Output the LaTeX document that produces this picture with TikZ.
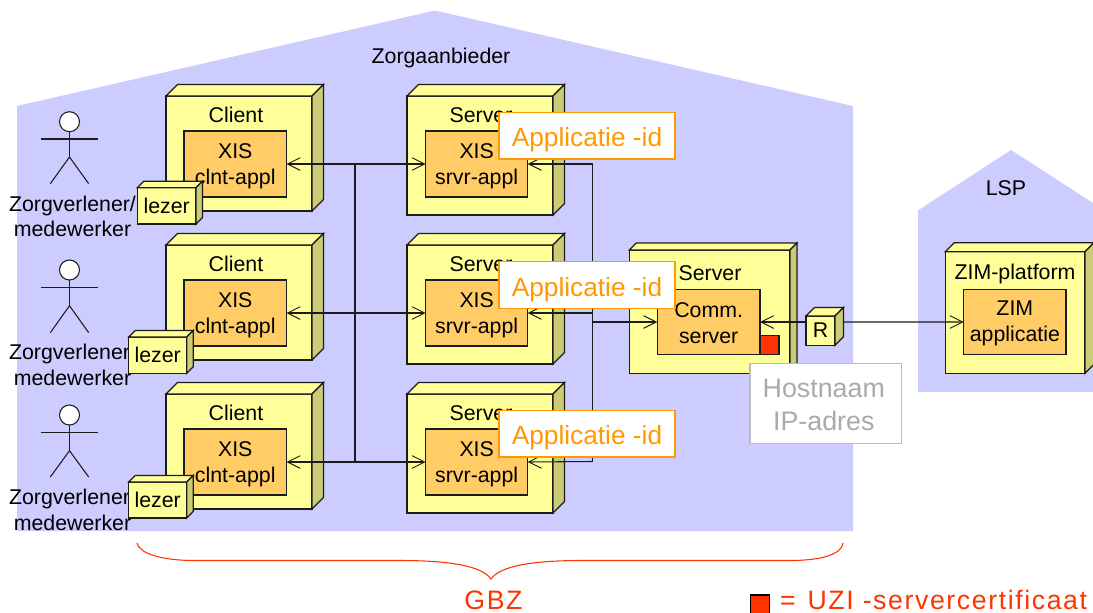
\documentclass[tikz,border=0pt]{standalone}
\usepackage{fontspec}
\setmainfont{Liberation Sans}
\newfontfamily\spacedfont[LetterSpace=6]{Liberation Sans}
\usetikzlibrary{arrows.meta}
\definecolor{housecol}{HTML}{CCCCFF}
\definecolor{frontcol}{HTML}{FFFF99}
\definecolor{sidecol}{HTML}{CCCC77}
\definecolor{innercol}{HTML}{FFCC66}
\definecolor{appcol}{HTML}{FF9900}
\definecolor{redcol}{HTML}{FF3300}
\definecolor{linecol}{HTML}{1C1C1C}
\definecolor{hostline}{HTML}{BBBBBB}
\definecolor{hosttext}{HTML}{AAAAAA}
\newcommand{\padA}{\rule{0pt}{15pt}}
\newcommand{\padB}{\rule{0pt}{13.2pt}}
\newcommand{\padH}{\rule{0pt}{16.5pt}}
\newcommand{\apptext}{\raisebox{-8.3pt}[0pt][0pt]{Applicatie -id}}
\tikzset{
  every node/.style={outer sep=0pt},
  >={Straight Barb[length=9.5pt,width=9.5pt,line width=0.7pt]},
  house/.style={fill=housecol,draw=none},
  boxline/.style={draw=linecol,line width=0.9pt,line join=miter},
  frontface/.style={boxline,fill=frontcol,inner sep=0pt,anchor=north west},
  topface/.style={boxline,fill=frontcol},
  sideface/.style={boxline,fill=sidecol},
  innerbox/.style={boxline,fill=innercol,inner sep=0pt,anchor=north west,align=center,font=\fontsize{16}{19.3}\selectfont},
  lbl/.style={inner sep=0pt,align=center,font=\fontsize{16}{19}\selectfont,text=black},
  conn/.style={draw=linecol,line width=0.8pt},
  appbox/.style={draw=appcol,fill=white,line width=0.9pt,text=appcol,inner sep=0pt,anchor=north west,font=\fontsize{19.7}{24}\selectfont},
  hostbox/.style={draw=hostline,fill=white,line width=0.9pt,text=hosttext,inner sep=0pt,anchor=north west,align=center,font=\fontsize{20.1}{24.3}\selectfont},
  stick/.style={draw=linecol,line width=0.8pt},
  headnode/.style={circle,draw=linecol,line width=0.8pt,fill=white,inner sep=0pt,minimum size=15pt},
  bracecurve/.style={draw=redcol,line width=0.8pt},
  redlbl/.style={text=redcol,inner sep=0pt,font=\spacedfont\fontsize{20}{24}\selectfont},
}
% name, x0, y0, x1, y1, depth, text
\newcommand{\tdbox}[7]{%
  \pgfmathsetmacro{\bwid}{(#4-#2)*0.75}%
  \pgfmathsetmacro{\bhei}{(#5-#3)*0.75}%
  \node[frontface,minimum width=\bwid pt,minimum height=\bhei pt,align=center,font=\fontsize{16}{19}\selectfont] (#1) at (#2,#3) {#7};
  \draw[topface] (#1.north west) -- ++(#6,-#6) -- ([shift={(#6,-#6)}]#1.north east) -- (#1.north east) -- cycle;
  \draw[sideface] (#1.north east) -- ++(#6,-#6) -- ([shift={(#6,-#6)}]#1.south east) -- (#1.south east) -- cycle;
}
% name, x0, y0, x1, y1, text
\newcommand{\inbox}[6]{%
  \pgfmathsetmacro{\bwid}{(#4-#2)*0.75}%
  \pgfmathsetmacro{\bhei}{(#5-#3)*0.75}%
  \node[innerbox,minimum width=\bwid pt,minimum height=\bhei pt] (#1) at (#2,#3) {#6};
}
% name, y of head, y of arms, y of crotch, y of feet
\newcommand{\stickman}[5]{%
  \node[headnode] (#1) at (69.5,#2) {};
  \coordinate (#1arml) at (41,#3);
  \coordinate (#1armr) at (98,#3);
  \coordinate (#1hip) at (69.5,#4);
  \coordinate (#1fl) at (50.3,#5);
  \coordinate (#1fr) at (88.7,#5);
  \draw[stick] (#1.south) -- (#1hip);
  \draw[stick] (#1arml) -- (#1armr);
  \draw[stick] (#1fl) -- (#1hip) -- (#1fr);
}
\begin{document}
\begin{tikzpicture}[x=0.75pt,y=-0.75pt]
\useasboundingbox (0,0) rectangle (1093,612);
\clip (0,0) rectangle (1093,612);
% houses
\fill[house] (17,106) -- (435,10.5) -- (853,106) -- (853,531) -- (17,531) -- cycle;
\fill[house] (918,210.5) -- (1011,150) -- (1093,203) -- (1093,392) -- (918,392) -- cycle;
\node[lbl] (zorgaanb) at (441,58) {Zorgaanbieder};
\node[lbl] (lsp) at (1006,188) {LSP};
% actors
\stickman{act1}{121.7}{139}{157}{183.7}
\stickman{act2}{270}{287.7}{305.7}{332.7}
\stickman{act3}{415}{432.7}{450.7}{477}
\node[lbl] (actl1) at (72.5,216.5) {Zorgverlener/\\medewerker};
\node[lbl] (actl2) at (72.5,365) {Zorgverlener/\\medewerker};
\node[lbl] (actl3) at (72.5,510) {Zorgverlener/\\medewerker};
% clients
\tdbox{cl1}{166}{96}{312}{211}{11.5}{}
\tdbox{cl2}{166}{245}{312}{360}{11.5}{}
\tdbox{cl3}{166}{394}{312}{509}{11.5}{}
\node[lbl] (clt1) at (236,115) {Client};
\node[lbl] (clt2) at (236,264) {Client};
\node[lbl] (clt3) at (236,413) {Client};
\inbox{ca1}{184}{131}{286.5}{197}{\padA XIS\\clnt-appl}
\inbox{ca2}{184}{280}{286.5}{346}{\padA XIS\\clnt-appl}
\inbox{ca3}{184}{429}{286.5}{495}{\padA XIS\\clnt-appl}
% servers
\tdbox{sv1}{407}{96}{553}{215}{11.5}{}
\tdbox{sv2}{407}{245}{553}{364}{11.5}{}
\tdbox{sv3}{407}{394}{553}{513}{11.5}{}
\node[lbl] (svt1) at (481,115) {Server};
\node[lbl] (svt2) at (481,264) {Server};
\node[lbl] (svt3) at (481,413) {Server};
\inbox{sa1}{425.7}{131}{527.7}{197}{\padA XIS\\srvr-appl}
\inbox{sa2}{425.7}{280}{527.7}{346}{\padA XIS\\srvr-appl}
\inbox{sa3}{425.7}{429}{527.7}{495}{\padA XIS\\srvr-appl}
% comm server
\tdbox{csv}{629.3}{250}{790}{373.3}{7}{}
\node[lbl] (csvt) at (710,273) {Server};
\inbox{comm}{657.3}{289.3}{760}{354.7}{\padB Comm.\\server}
\node[boxline,fill=redcol,inner sep=0pt,anchor=north west,minimum width=14.2pt,minimum height=14.2pt] (cert) at (760,335.7) {};
% ZIM
\tdbox{zim}{945.3}{251.7}{1085}{373.3}{9}{}
\node[lbl] (zimt) at (1015,274) {ZIM-platform};
\inbox{zima}{963.7}{289.3}{1066}{354.7}{\padB ZIM\\applicatie}
% R
\tdbox{rout}{806}{316}{835}{345.3}{8.5}{R}
% readers
\tdbox{lz1}{137.3}{187.7}{196}{224}{6.5}{lezer}
\tdbox{lz2}{128.7}{337}{186.7}{373.3}{6.5}{lezer}
\tdbox{lz3}{128.7}{482}{186.7}{518}{6.5}{lezer}
% connectors
\coordinate (jr1) at (592.7,164);
\coordinate (jr2) at (592.7,313);
\coordinate (jr3) at (592.7,461.5);
\coordinate (jrc) at (592.7,322);
\coordinate (jl1) at (355,164);
\coordinate (jl3) at (355,461.5);
\coordinate (rright) at (843.5,322);
\draw[conn,<->] (ca1.east) -- (sa1.west);
\draw[conn,<->] (ca2.east) -- (sa2.west);
\draw[conn,<->] (ca3.east) -- (sa3.west);
\draw[conn] (jl1) -- (jl3);
\draw[conn,<-] (sa1.east) -- (jr1) -- (jr3);
\draw[conn,<-] (sa2.east) -- (jr2);
\draw[conn,<-] (sa3.east) -- (jr3);
\draw[conn,line width=1.2pt,->] (jrc) -- (comm.west);
\draw[conn,<-] (comm.east) -- (rout.west |- comm.east);
\draw[conn,->] (rright) -- (zima.west);
% overlays
\node[appbox,minimum width=132pt,minimum height=35pt] (app1) at (499,112.3) {\apptext};
\node[appbox,minimum width=132pt,minimum height=35pt] (app2) at (499,261.7) {\apptext};
\node[appbox,minimum width=132pt,minimum height=35pt] (app3) at (499,410.3) {\apptext};
\node[hostbox,minimum width=113.7pt,minimum height=60pt] (host) at (750,363.3) {\padH Hostnaam\hspace*{3pt}\\IP-adres\hspace*{3pt}};
% brace
\coordinate (bl) at (137,543);
\coordinate (bt) at (491,579);
\coordinate (br) at (843,543);
\draw[bracecurve] (bl) .. controls (139,553) and (160,560.5) .. (195,560.5) -- (400,560.5) .. controls (450,560.5) and (482,566) .. (bt) .. controls (500,566) and (532,560.5) .. (582,560.5) -- (790,560.5) .. controls (825,560.5) and (842,553) .. (br);
\node[redlbl] (gbz) at (493.5,600) {GBZ};
\node[draw=black,line width=0.9pt,fill=redcol,inner sep=0pt,anchor=north west,minimum width=14.5pt,minimum height=14.5pt] (legsq) at (750.5,595) {};
\node[redlbl,anchor=west] (legtxt) at (780,600) {=\hspace{2.25pt} UZI -servercertificaat};
\end{tikzpicture}
\end{document}
